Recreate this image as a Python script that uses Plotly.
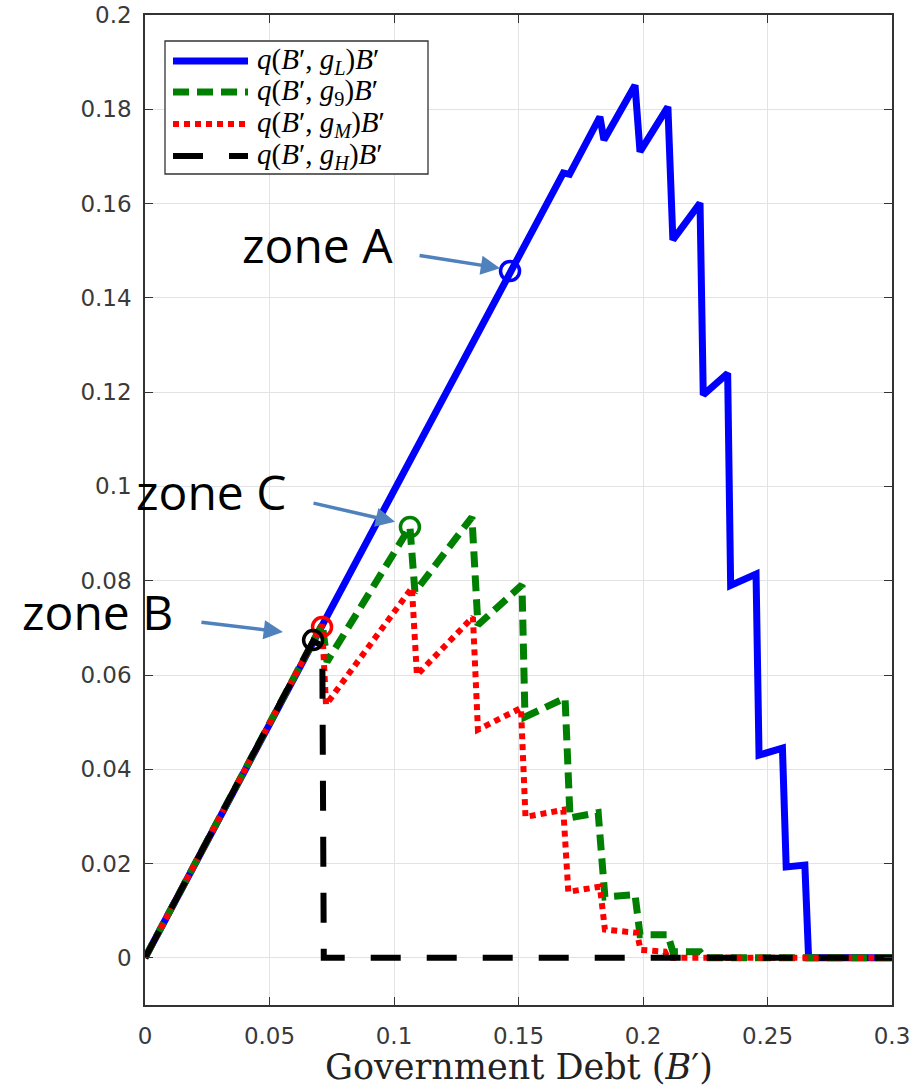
import plotly.graph_objects as go

# ---- data ----
blue_x = [0, 0.168, 0.1705, 0.1827, 0.1843, 0.1968, 0.1988, 0.2100, 0.2120, 0.2229,
          0.2242, 0.2340, 0.2352, 0.2454, 0.2466, 0.2560, 0.2575, 0.2650, 0.2665, 0.3]
blue_y = [0, 0.1665, 0.1662, 0.1784, 0.1735, 0.1851, 0.1710, 0.1805, 0.1523, 0.1601,
          0.1194, 0.1240, 0.0790, 0.0814, 0.0430, 0.0445, 0.0193, 0.0197, 0, 0]

green_x = [0, 0.0712, 0.0731, 0.1064, 0.1084, 0.1313, 0.1337, 0.1514, 0.1526, 0.1687,
           0.1707, 0.1820, 0.1847, 0.1968, 0.1988, 0.2100, 0.2120, 0.2229, 0.2249, 0.3]
green_y = [0, 0.0708, 0.0628, 0.0914, 0.0776, 0.0935, 0.0706, 0.0791, 0.0511, 0.0551,
           0.0297, 0.0308, 0.0129, 0.0134, 0.0049, 0.0049, 0.0013, 0.0013, 0, 0]

red_x = [0, 0.0711, 0.0727, 0.1072, 0.1092, 0.1317, 0.1337, 0.1510, 0.1528, 0.1680,
         0.1700, 0.1827, 0.1847, 0.1976, 0.1990, 0.2088, 0.2100, 0.3]
red_y = [0, 0.0707, 0.0537, 0.0785, 0.0600, 0.0723, 0.0484, 0.0530, 0.0299, 0.0314,
         0.0140, 0.0151, 0.0060, 0.0053, 0.0017, 0.0013, 0, 0]

black_x = [0, 0.0675, 0.0712, 0.0718, 0.3]
black_y = [0, 0.0672, 0.0662, 0, 0]

circle_x = [0.1466, 0.1064, 0.0711, 0.0675]
circle_y = [0.1457, 0.0914, 0.0702, 0.0674]

series_names = [
    "<i>q</i>(<i>B</i>′, <i>g</i><sub><i>L</i></sub>)<i>B</i>′",
    "<i>q</i>(<i>B</i>′, <i>g</i><sub>9</sub>)<i>B</i>′",
    "<i>q</i>(<i>B</i>′, <i>g</i><sub><i>M</i></sub>)<i>B</i>′",
    "<i>q</i>(<i>B</i>′, <i>g</i><sub><i>H</i></sub>)<i>B</i>′",
]

zone_labels = ["zone A", "zone C", "zone B"]
arrow_tip_x = [0.1426, 0.1004, 0.0554]
arrow_tip_y = [0.1463, 0.0925, 0.0691]

x_ticks = [0, 0.05, 0.1, 0.15, 0.2, 0.25, 0.3]
x_ticklabels = ["0", "0.05", "0.1", "0.15", "0.2", "0.25", "0.3"]
y_ticks = [0, 0.02, 0.04, 0.06, 0.08, 0.1, 0.12, 0.14, 0.16, 0.18, 0.2]
y_ticklabels = ["0", "0.02", "0.04", "0.06", "0.08", "0.1", "0.12", "0.14", "0.16", "0.18", "0.2"]

# ---- styles / layout constants ----
W, H = 924, 1088
ML, MR, MT, MB = 145, 32, 15, 83
PW, PH = W - ML - MR, H - MT - MB


def px_x(p):  # page pixel -> paper x
    return (p - ML) / PW


def px_y(p):  # page pixel -> paper y
    return (H - MB - p) / PH


colors = ["#0000FF", "#008000", "#FF0000", "#000000"]
widths = [7, 7, 6, 6]
dashes = ["solid", "16px,8px", "6px,5px", "30px,26px"]

zone_text_px = [(317, 244), (211, 491), (97, 611)]
arrow_tail_off = [(-82, -13), (-83, -19), (-83, -10)]

fig = go.Figure()
series = [(blue_x, blue_y), (green_x, green_y), (red_x, red_y), (black_x, black_y)]
for (xs, ys), name, c, w, d in zip(series, series_names, colors, widths, dashes):
    fig.add_trace(go.Scatter(x=xs, y=ys, mode="lines", name=name, showlegend=False,
                             line=dict(color=c, width=w, dash=d)))

fig.add_trace(go.Scatter(x=circle_x, y=circle_y, mode="markers", showlegend=False,
                         marker=dict(symbol="circle-open", size=19, color=colors,
                                     line=dict(width=3.5, color=colors))))

# zone labels + arrows
for lab, (tx, ty) in zip(zone_labels, zone_text_px):
    fig.add_annotation(x=px_x(tx), y=px_y(ty), xref="paper", yref="paper", text=lab,
                       showarrow=False, xanchor="center", yanchor="middle",
                       font=dict(family="Open Sans", size=48, color="#000000"))
for hx, hy, (dx, dy) in zip(arrow_tip_x, arrow_tip_y, arrow_tail_off):
    fig.add_annotation(x=hx, y=hy, xref="x", yref="y", text="", showarrow=True,
                       ax=dx, ay=dy, axref="pixel", ayref="pixel",
                       arrowhead=2, arrowsize=1.1, arrowwidth=3.5,
                       arrowcolor="#4F81BD", standoff=0)

# legend (drawn as a box with sample lines and labels)
leg_x0, leg_x1, leg_top, leg_bot = 165, 428, 41, 174
leg_line_x0, leg_line_x1, leg_text_x = 173, 248, 255
leg_rows = [61, 92, 124, 156]
fig.add_shape(type="rect", xref="paper", yref="paper",
              x0=px_x(leg_x0), x1=px_x(leg_x1), y0=px_y(leg_bot), y1=px_y(leg_top),
              fillcolor="white", line=dict(color="#333333", width=1.3), layer="above")
for row, name, c, w, d in zip(leg_rows, series_names, colors, widths, dashes):
    fig.add_shape(type="line", xref="paper", yref="paper",
                  x0=px_x(leg_line_x0), x1=px_x(leg_line_x1), y0=px_y(row), y1=px_y(row),
                  line=dict(color=c, width=w, dash=d), layer="above")
    fig.add_annotation(x=px_x(leg_text_x), y=px_y(row), xref="paper", yref="paper",
                       text=name, showarrow=False, xanchor="left", yanchor="middle",
                       font=dict(family="Liberation Serif", size=29, color="#000000"))

# x-axis title
fig.add_annotation(x=0.5, y=px_y(1067), xref="paper", yref="paper",
                   text="Government Debt (<i>B</i>′)", showarrow=False,
                   xanchor="center", yanchor="middle",
                   font=dict(family="DejaVu Serif", size=35, color="#222222"))

tick_font = dict(family="DejaVu Sans", size=23, color="#3a3a3a")
axis_common = dict(showgrid=True, gridcolor="#e3e3e3", gridwidth=1, zeroline=False,
                   showline=True, linecolor="#333333", linewidth=1.5, mirror="ticks",
                   ticks="inside", ticklen=8, tickcolor="#333333", tickfont=tick_font,
                   automargin=False, ticklabeloverflow="allow")
fig.update_xaxes(range=[0, 0.3], tickvals=x_ticks, ticktext=x_ticklabels,
                 ticklabelstandoff=10, **axis_common)
fig.update_yaxes(range=[-0.01, 0.2], tickvals=y_ticks, ticktext=y_ticklabels,
                 ticklabelstandoff=7, **axis_common)

fig.update_layout(width=W, height=H, margin=dict(l=ML, r=MR, t=MT, b=MB),
                  paper_bgcolor="white", plot_bgcolor="white", showlegend=False)

# remove the browser's default page margin so the figure fills the window exactly
fig.write_html("out.html", config={"displayModeBar": False},
               post_script="document.body.style.margin='0px';document.body.style.padding='0px';")
